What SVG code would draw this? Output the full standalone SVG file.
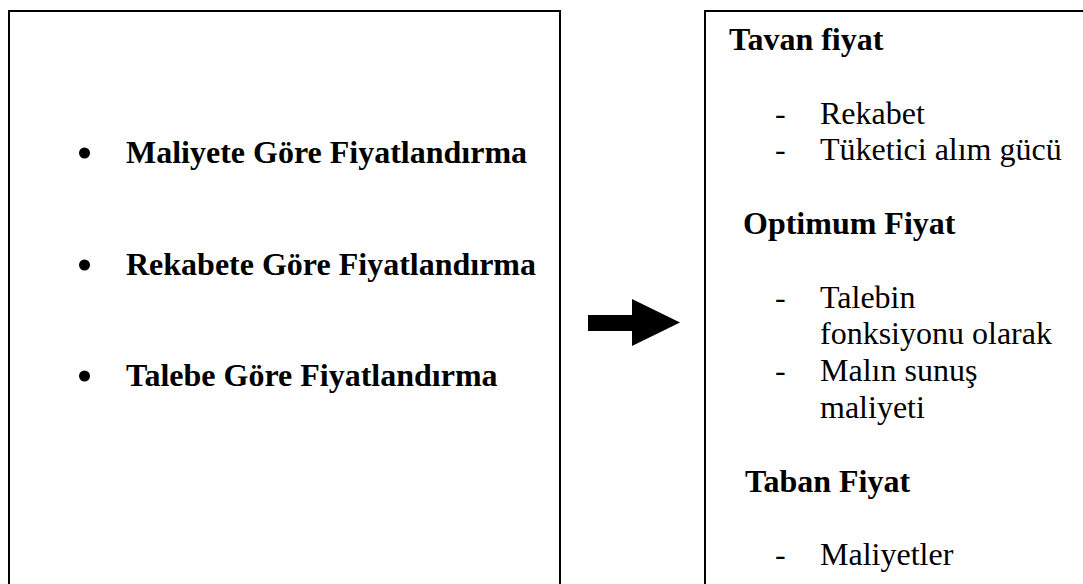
<svg xmlns="http://www.w3.org/2000/svg" width="1083" height="584" viewBox="0 0 1083 584">
  <style>
    .box { fill: #fff; stroke: #000; stroke-width: 2; }
    .head { font-family: "Liberation Serif", "Times New Roman", serif; font-weight: bold; font-size: 32px; fill: #000; }
    .item { font-family: "Liberation Serif", "Times New Roman", serif; font-size: 32px; fill: #000; }
    .dot { fill: #000; }
  </style>
  <rect width="1083" height="584" fill="#fff"/>

  <!-- Left box: pricing approaches -->
  <g id="approaches">
    <rect class="box" x="9" y="11" width="551" height="590"/>
    <circle class="dot" cx="84.5" cy="153" r="5.5"/>
    <text class="head" x="126" y="163">Maliyete Göre Fiyatlandırma</text>
    <circle class="dot" cx="84.5" cy="265" r="5.5"/>
    <text class="head" x="126" y="275">Rekabete Göre Fiyatlandırma</text>
    <circle class="dot" cx="84.5" cy="376" r="5.5"/>
    <text class="head" x="126" y="386">Talebe Göre Fiyatlandırma</text>
  </g>

  <!-- Connector -->
  <g id="connectors">
    <polygon points="588,315 632,315 632,299 680,322.5 632,346 632,331 588,331" fill="#000"/>
  </g>

  <!-- Right box: price levels -->
  <g id="price-levels">
    <rect class="box" x="705" y="11" width="400" height="590"/>
    <text class="head" x="729" y="50">Tavan fiyat</text>
    <text class="item" x="775" y="124">-</text>
    <text class="item" x="820" y="124">Rekabet</text>
    <text class="item" x="775" y="160">-</text>
    <text class="item" x="820" y="160">Tüketici alım gücü</text>
    <text class="head" x="743" y="234">Optimum Fiyat</text>
    <text class="item" x="775" y="308">-</text>
    <text class="item" x="820" y="308">Talebin</text>
    <text class="item" x="820" y="344">fonksiyonu olarak</text>
    <text class="item" x="775" y="381">-</text>
    <text class="item" x="820" y="381">Malın sunuş</text>
    <text class="item" x="820" y="418">maliyeti</text>
    <text class="head" x="745" y="492">Taban Fiyat</text>
    <text class="item" x="775" y="565">-</text>
    <text class="item" x="820" y="565">Maliyetler</text>
  </g>
</svg>
